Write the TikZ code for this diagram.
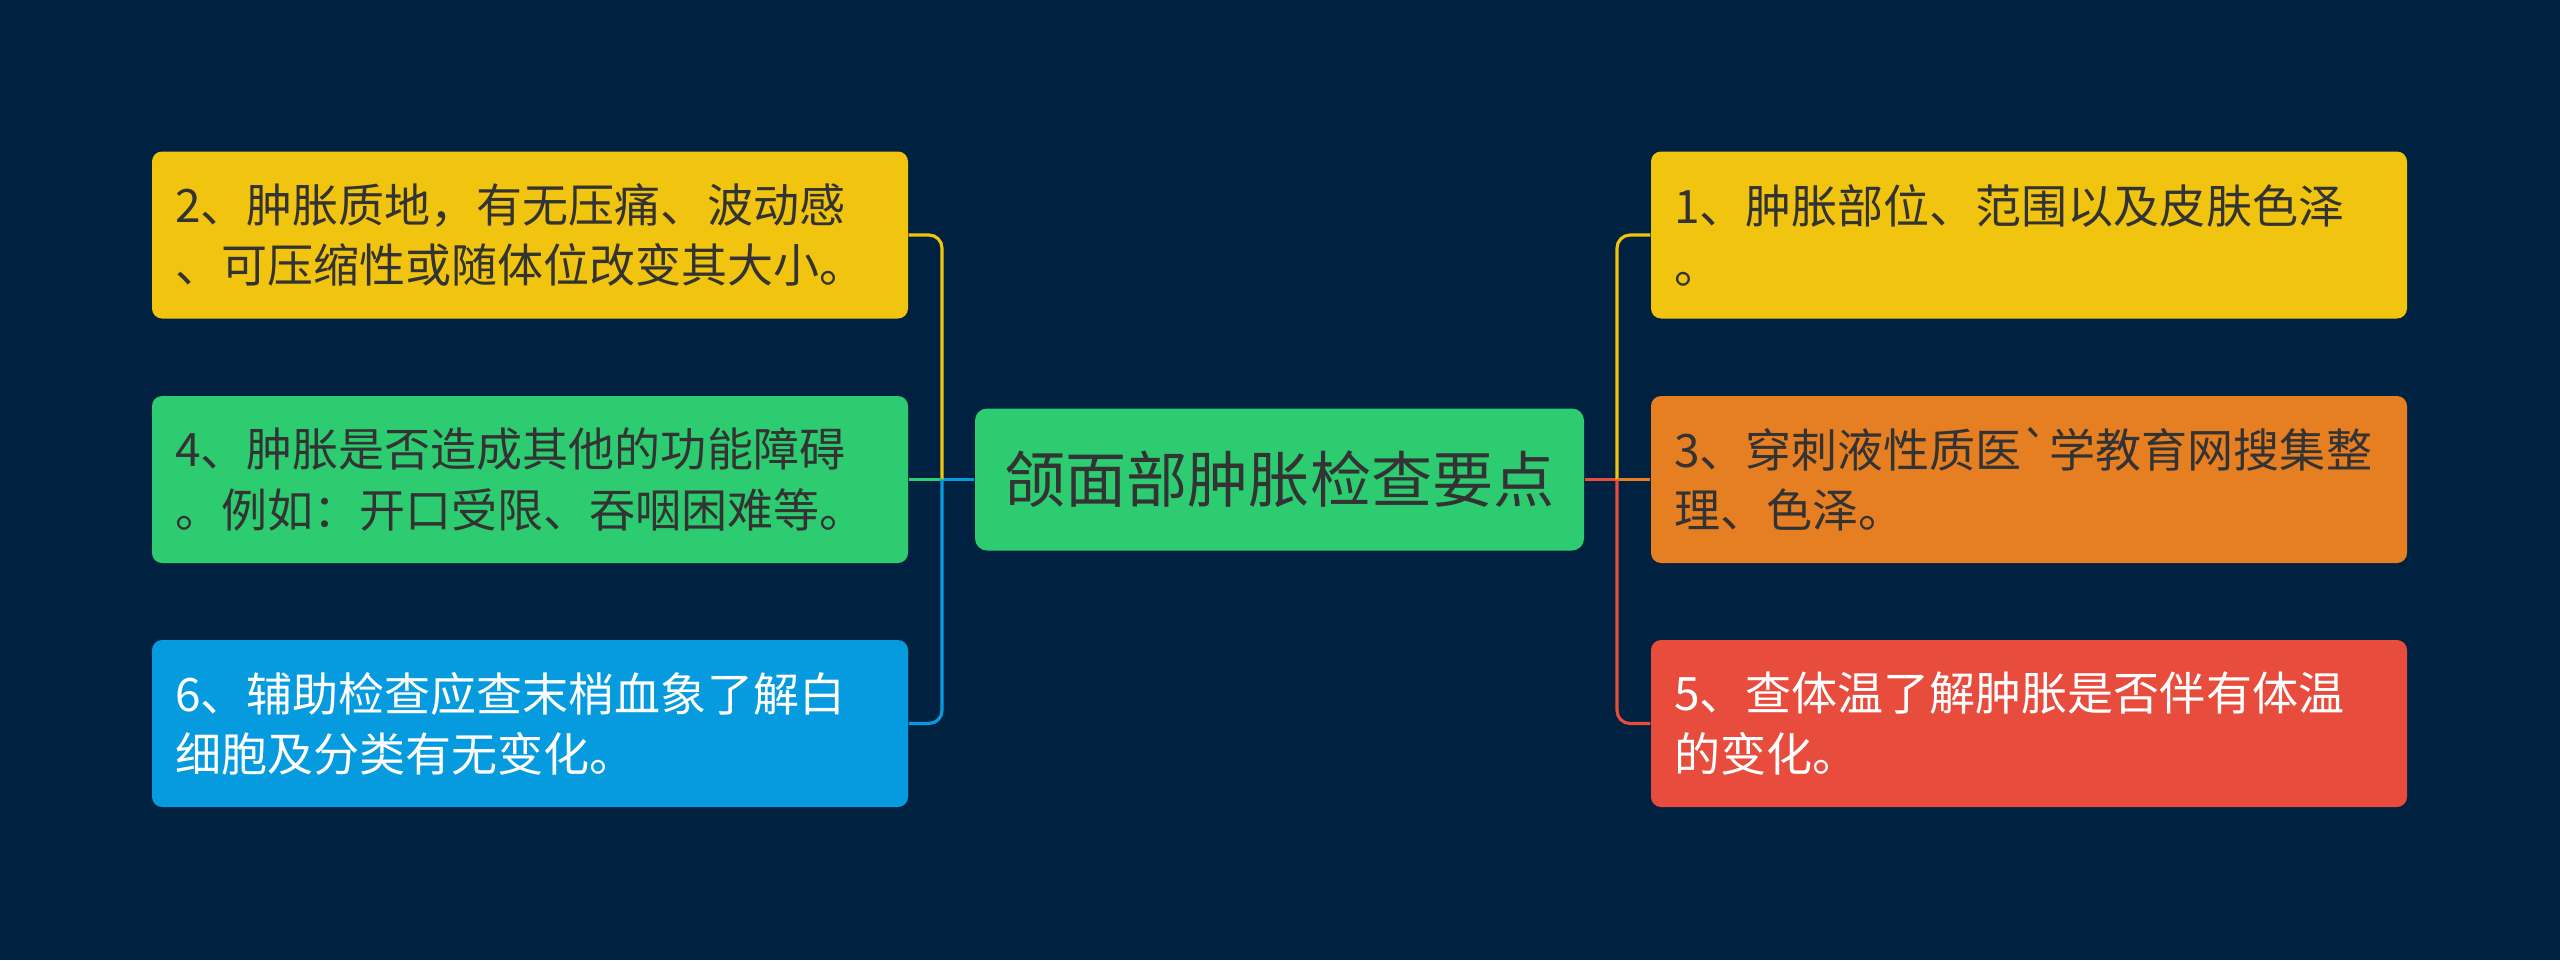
\documentclass[tikz,border=0pt]{standalone}
\usepackage{fontspec}
\setmainfont{Noto Sans CJK SC}[Ligatures=TeXOff]

\definecolor{cBg}{RGB}{1,33,64}
\definecolor{cY}{RGB}{241,196,15}
\definecolor{cG}{RGB}{46,204,113}
\definecolor{cB}{RGB}{5,155,222}
\definecolor{cO}{RGB}{230,126,34}
\definecolor{cR}{RGB}{231,76,60}
\definecolor{cT}{RGB}{51,51,51}

\begin{document}
\begin{tikzpicture}[
    font=\fontsize{13.1}{17.1}\selectfont,
    topic/.style={rounded corners=1mm, text width=71mm, inner xsep=2.3mm, inner ysep=0pt, minimum height=16.7mm, align=left},
    rootbox/.style={rounded corners=1.2mm, fill=cG, text=cT, minimum width=60.9mm, minimum height=14.2mm, inner sep=0pt, font=\fontsize{17.4}{20}\selectfont},
    link/.style={line width=0.9pt},
    elbow/.style={link, rounded corners=1.3mm},
]

% background, fixes the page size
\fill[cBg] (0,0) rectangle (25.6,9.6);

% ===== centre =====
\node[rootbox] (root) at (12.795, 4.805) {颌面部肿胀检查要点};

% ===== LEFT: topics 2, 4, 6 =====
\node[topic, fill=cY, text=cT] (t2) at (5.30, 7.25) {2、肿胀质地，有无压痛、波动感\\、可压缩性或随体位改变其大小。};
\node[topic, fill=cG, text=cT] (t4) at (5.30, 4.805) {4、肿胀是否造成其他的功能障碍\\。例如：开口受限、吞咽困难等。};
\node[topic, fill=cB, text=white] (t6) at (5.30, 2.365) {6、辅助检查应查末梢血象了解白\\细胞及分类有无变化。};

% ===== RIGHT: topics 1, 3, 5 =====
\node[topic, fill=cY, text=cT] (t1) at (20.29, 7.25) {1、肿胀部位、范围以及皮肤色泽\\。};
\node[topic, fill=cO, text=cT] (t3) at (20.29, 4.805) {3、穿刺液性质医`学教育网搜集整\\理、色泽。};
\node[topic, fill=cR, text=white] (t5) at (20.29, 2.365) {5、查体温了解肿胀是否伴有体温\\的变化。};

% branch points
\coordinate (lbus) at (9.42, 4.805);
\coordinate (rbus) at (16.17, 4.805);

% left connectors
\draw[link, cB] (root.west) -- (lbus);
\draw[elbow, cY] (lbus) |- (t2.east);
\draw[link, cG] (lbus) -- (t4.east);
\draw[elbow, cB] (lbus) |- (t6.east);

% right connectors
\draw[link, cR] (root.east) -- (rbus);
\draw[elbow, cY] (rbus) |- (t1.west);
\draw[link, cO] (rbus) -- (t3.west);
\draw[elbow, cR] (rbus) |- (t5.west);

\end{tikzpicture}
\end{document}
